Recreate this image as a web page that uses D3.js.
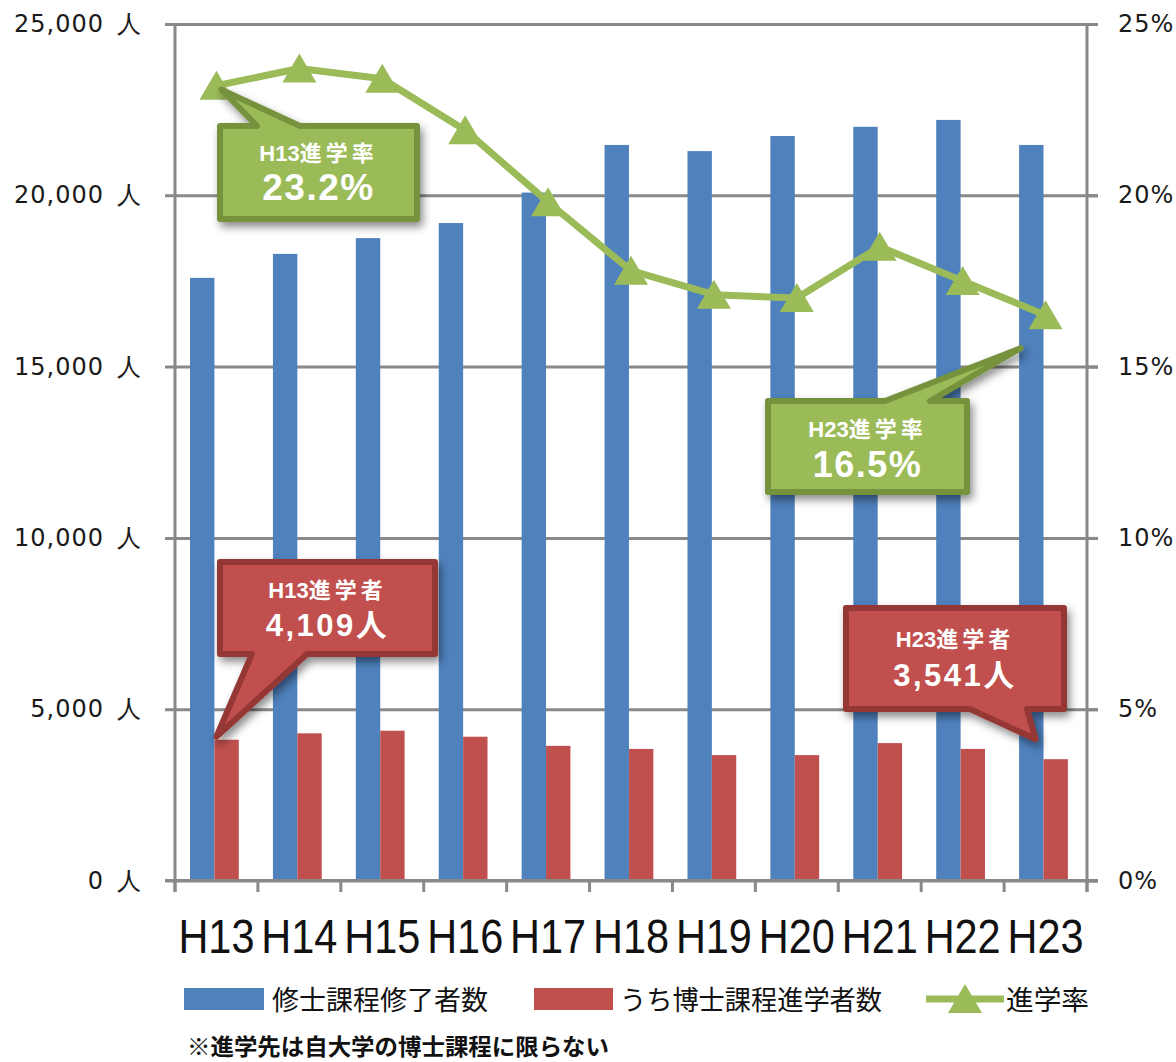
<!DOCTYPE html>
<html lang="ja">
<head>
<meta charset="utf-8">
<script src="https://cdn.jsdelivr.net/npm/d3@7"></script>
<style>
  html, body { margin: 0; padding: 0; background: #fff; }
  svg { display: block; }
</style>
</head>
<body>
<svg id="chart" width="1176" height="1062"></svg>
<script>
// Fiscal years (Heisei era)
const categories = ["H13", "H14", "H15", "H16", "H17", "H18", "H19", "H20", "H21", "H22", "H23"];
// Master's course completers (persons)
const graduates = [17590, 18290, 18750, 19190, 20080, 21470, 21290, 21730, 22000, 22200, 21470];
// Of which went on to doctoral courses (persons)
const doctoralEntrants = [4109, 4296, 4372, 4197, 3930, 3840, 3660, 3660, 4010, 3840, 3541];
// Progression rate (%)
const progressionRate = [23.2, 23.7, 23.4, 21.9, 19.8, 17.8, 17.1, 17.0, 18.5, 17.5, 16.5];
// Axis ticks
const leftTicks = [0, 5000, 10000, 15000, 20000, 25000];
const rightTicks = [0, 5, 10, 15, 20, 25];

const BLUE = "#4F81BD", RED = "#C0504D", GREEN = "#9BBB59";
const GRID = "#898989";
const svg = d3.select("#chart");

const plotLeft = 175, plotRight = 1087, plotTop = 24, plotBottom = 880.5;
const x = d3.scaleBand().domain(categories).range([plotLeft, plotRight]);
const sub = d3.scaleBand().domain(["grad", "phd"]).range([0, x.bandwidth()])
  .paddingInner(0).paddingOuter(0.7).align(0.44);
const yL = d3.scaleLinear().domain([0, 25000]).range([plotBottom, plotTop]);
const yR = d3.scaleLinear().domain([0, 25]).range([plotBottom, plotTop]);
const cx = c => x(c) + x.bandwidth() / 2;

const defs = svg.append("defs");
const f = defs.append("filter").attr("id", "shadow").attr("x", "-20%").attr("y", "-20%").attr("width", "150%").attr("height", "160%");
f.append("feDropShadow").attr("dx", 3).attr("dy", 5).attr("stdDeviation", 4).attr("flood-color", "#000").attr("flood-opacity", 0.45);

// Left axis: labels + horizontal gridlines
const gl = svg.append("g").attr("transform", "translate(1098,0)")
  .call(d3.axisLeft(yL).tickValues(leftTicks).tickSize(933).tickPadding(23)
    .tickFormat(d => d3.format(",")(d) + "\u2002人"));
gl.select(".domain").remove();
gl.selectAll(".tick line").attr("stroke", GRID).attr("stroke-width", 3);
gl.selectAll(".tick text").attr("fill", "#1a1a1a").attr("letter-spacing", 1)
  .style("font-family", "'DejaVu Sans', Verdana, sans-serif").style("font-size", "24px");

// Right axis (percentage)
const gr = svg.append("g").attr("transform", `translate(${plotRight},0)`)
  .call(d3.axisRight(yR).tickValues(rightTicks).tickSize(11).tickPadding(20).tickFormat(d => d + "%"));
gr.select(".domain").remove();
gr.selectAll(".tick line").attr("stroke", GRID).attr("stroke-width", 3);
gr.selectAll(".tick text").attr("fill", "#1a1a1a").attr("letter-spacing", 1)
  .style("font-family", "'DejaVu Sans', Verdana, sans-serif").style("font-size", "24px");

// Bars
const bars = svg.append("g");
bars.selectAll("rect.grad").data(categories).join("rect").attr("class", "grad")
  .attr("x", c => x(c) + sub("grad")).attr("width", sub.bandwidth())
  .attr("y", (c, i) => yL(graduates[i])).attr("height", (c, i) => plotBottom - yL(graduates[i]))
  .attr("fill", BLUE);
bars.selectAll("rect.phd").data(categories).join("rect").attr("class", "phd")
  .attr("x", c => x(c) + sub("phd")).attr("width", sub.bandwidth())
  .attr("y", (c, i) => yL(doctoralEntrants[i])).attr("height", (c, i) => plotBottom - yL(doctoralEntrants[i]))
  .attr("fill", RED);

// Vertical axis lines
svg.append("line").attr("x1", plotLeft).attr("x2", plotLeft).attr("y1", plotTop).attr("y2", 892).attr("stroke", GRID).attr("stroke-width", 3);
svg.append("line").attr("x1", plotRight).attr("x2", plotRight).attr("y1", plotTop).attr("y2", 892).attr("stroke", GRID).attr("stroke-width", 3);

// Bottom axis: ticks between categories, labels centred
const boundaries = categories.map(c => x(c)).concat([x.range()[1]]);
svg.append("g").selectAll("line").data(boundaries).join("line")
  .attr("x1", d => d).attr("x2", d => d).attr("y1", plotBottom).attr("y2", 892)
  .attr("stroke", GRID).attr("stroke-width", 3);
svg.append("line").attr("x1", 165).attr("x2", 1098).attr("y1", plotBottom).attr("y2", plotBottom).attr("stroke", GRID).attr("stroke-width", 3);

const gb = svg.append("g").attr("transform", `translate(0,${plotBottom})`)
  .call(d3.axisBottom(x).tickSize(0).tickPadding(0));
gb.select(".domain").remove();
gb.selectAll(".tick text")
  .attr("y", 72).attr("dy", null)
  .attr("fill", "#111")
  .attr("textLength", 76).attr("lengthAdjust", "spacingAndGlyphs")
  .style("font-family", "'Liberation Sans Narrow', 'Arial Narrow', 'Liberation Sans', sans-serif")
  .style("font-size", "48px");

// Rate line + triangle markers
const line = d3.line().x((d, i) => cx(categories[i])).y(d => yR(d));
svg.append("path").datum(progressionRate).attr("d", line)
  .attr("fill", "none").attr("stroke", GREEN).attr("stroke-width", 7).attr("stroke-linejoin", "round");
const tri = "M0,-15L17,14L-17,14Z";
svg.append("g").selectAll("path").data(progressionRate).join("path")
  .attr("transform", (d, i) => `translate(${cx(categories[i])},${yR(d)})`)
  .attr("d", tri).attr("fill", GREEN);

// Callout boxes
function calloutPath(x0, y0, x1, y1, side, a, b, tip) {
  const p = [];
  if (side === "top") {
    p.push([x0, y0], [a, y0], tip, [b, y0], [x1, y0], [x1, y1], [x0, y1]);
  } else {
    p.push([x0, y0], [x1, y0], [x1, y1], [b, y1], tip, [a, y1], [x0, y1]);
  }
  return "M" + p.map(q => q.join(",")).join("L") + "Z";
}
function callout(o) {
  const g = svg.append("g");
  g.append("path")
    .attr("d", calloutPath(o.x0, o.y0, o.x1, o.y1, o.side, o.a, o.b, o.tip))
    .attr("fill", o.fill).attr("stroke", o.stroke).attr("stroke-width", 6)
    .attr("stroke-linejoin", "round").attr("filter", "url(#shadow)");
  const mid = (o.x0 + o.x1) / 2;
  const t = g.append("text").attr("x", mid).attr("y", o.t1).attr("text-anchor", "middle")
    .attr("fill", "#fff").attr("font-weight", "bold")
    .style("font-family", "'Liberation Sans', 'Noto Sans CJK JP', sans-serif").style("font-size", "22px");
  t.append("tspan").attr("letter-spacing", 0).text(o.year);
  t.append("tspan").attr("letter-spacing", 4).text(o.label);
  g.append("text").attr("x", mid).attr("y", o.t2).attr("text-anchor", "middle")
    .attr("fill", "#fff").attr("font-weight", "bold").attr("letter-spacing", o.ls)
    .style("font-family", "'Liberation Sans', 'Noto Sans CJK JP', sans-serif").style("font-size", o.size + "px")
    .text(o.line2);
}

const iFirst = 0, iLast = categories.length - 1;
callout({
  x0: 220, y0: 126, x1: 417, y1: 219, side: "top", a: 257, b: 300,
  tip: [cx(categories[iFirst]) + 5, yR(progressionRate[iFirst]) + 4],
  fill: GREEN, stroke: "#76923C",
  year: categories[iFirst], label: "進学率", line2: progressionRate[iFirst].toFixed(1) + "%",
  t1: 161, t2: 200, size: 37, ls: 1.5
});
callout({
  x0: 768, y0: 401, x1: 967, y1: 492, side: "top", a: 885, b: 930,
  tip: [cx(categories[iLast]) - 25, yR(progressionRate[iLast]) + 33],
  fill: GREEN, stroke: "#76923C",
  year: categories[iLast], label: "進学率", line2: progressionRate[iLast].toFixed(1) + "%",
  t1: 437, t2: 477, size: 36, ls: 1.5
});
callout({
  x0: 220, y0: 562, x1: 435, y1: 654, side: "bottom", a: 252, b: 307,
  tip: [x(categories[iFirst]) + sub("phd") + 2, yL(doctoralEntrants[iFirst]) - 3],
  fill: RED, stroke: "#953735",
  year: categories[iFirst], label: "進学者", line2: d3.format(",")(doctoralEntrants[iFirst]) + "人",
  t1: 598, t2: 636, size: 31, ls: 2.5
});
callout({
  x0: 846, y0: 608, x1: 1064, y1: 709, side: "bottom", a: 970, b: 1027,
  tip: [cx(categories[iLast]) - 10, yL(doctoralEntrants[iLast]) - 20],
  fill: RED, stroke: "#953735",
  year: categories[iLast], label: "進学者", line2: d3.format(",")(doctoralEntrants[iLast]) + "人",
  t1: 647, t2: 686, size: 31, ls: 2.5
});

// Legend
const lg = svg.append("g").style("font-family", "'Noto Sans CJK JP', sans-serif").style("font-size", "27px").attr("fill", "#111");
lg.append("rect").attr("x", 184).attr("y", 988).attr("width", 80).attr("height", 22).attr("fill", BLUE);
lg.append("text").attr("x", 272).attr("y", 1010).attr("textLength", 216).attr("lengthAdjust", "spacingAndGlyphs").text("修士課程修了者数");
lg.append("rect").attr("x", 534).attr("y", 988).attr("width", 79).attr("height", 22).attr("fill", RED);
lg.append("text").attr("x", 620).attr("y", 1010).attr("textLength", 262).attr("lengthAdjust", "spacingAndGlyphs").text("うち博士課程進学者数");
lg.append("line").attr("x1", 926).attr("x2", 1004).attr("y1", 999).attr("y2", 999).attr("stroke", GREEN).attr("stroke-width", 7);
lg.append("path").attr("d", tri).attr("transform", "translate(965,999)").attr("fill", GREEN);
lg.append("text").attr("x", 1006).attr("y", 1010).attr("textLength", 83).attr("lengthAdjust", "spacingAndGlyphs").text("進学率");

// Footnote
svg.append("text").attr("x", 187).attr("y", 1055)
  .attr("textLength", 422).attr("lengthAdjust", "spacingAndGlyphs")
  .attr("fill", "#111").attr("font-weight", "bold")
  .style("font-family", "'Noto Sans CJK JP', sans-serif").style("font-size", "23px")
  .text("※進学先は自大学の博士課程に限らない");
</script>
</body>
</html>
